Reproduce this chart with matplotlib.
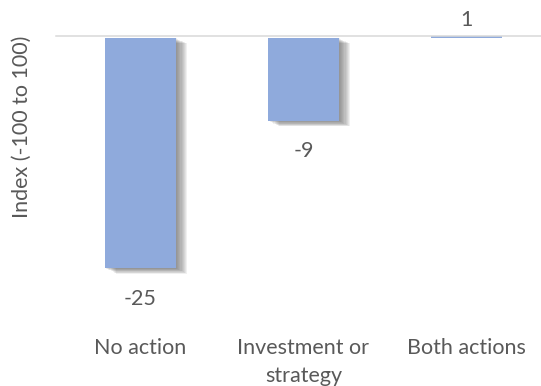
import matplotlib
matplotlib.use("Agg")
import matplotlib.pyplot as plt
import matplotlib.patheffects as pe

categories = ["No action", "Investment or\nstrategy", "Both actions"]
values = [-25, -9, 1]
value_labels = ["-25", "-9", "1"]

W, H = 541, 386
fig = plt.figure(figsize=(W / 100, H / 100), dpi=100)

# top spine doubles as the baseline; axes runs down to just under the lowest bar
left, right = 56, 541
top, bottom = 36, 290
ax = fig.add_axes([left / W, 1 - bottom / H, (right - left) / W, (bottom - top) / H])

bar_color = "#8FAADC"
text_color = "#595959"
font = "Lato"
fs = 15.5

# soft drop shadow built from several faint offset copies
soft_shadow = [
    pe.SimplePatchShadow(offset=(d * 0.8, -d * 0.4), shadow_rgbFace="#5a5a5a", alpha=0.09)
    for d in range(1, 11)
] + [pe.Normal()]

bars = ax.bar(range(len(values)), values, width=0.436, color=bar_color, zorder=2)
for b, v in zip(bars, values):
    if v < 0:
        b.set_path_effects(soft_shadow)

ax.set_xlim(-0.519, 2.459)
ax.set_ylim(-27.37, 0.2)

for i, (v, lab) in enumerate(zip(values, value_labels)):
    if v < 0:
        ax.annotate(lab, (i, v), xytext=(0, -22), textcoords="offset points",
                    ha="center", va="center", fontsize=fs, color=text_color,
                    family=font, annotation_clip=False)
    else:
        ax.annotate(lab, (i, 0), xytext=(0, 13), textcoords="offset points",
                    ha="center", va="center", fontsize=fs, color=text_color,
                    family=font, annotation_clip=False)

for name, s in ax.spines.items():
    s.set_visible(name == "top")
ax.spines["top"].set_color("#D9D9D9")
ax.spines["top"].set_linewidth(1.1)
ax.set_yticks([])
ax.set_xticks([])

for i, c in enumerate(categories):
    ax.annotate(c, (i, 0), xycoords=("data", "figure pixels"),
                xytext=(i, H - 338), textcoords=("data", "figure pixels"),
                ha="center", va="top", fontsize=fs, color=text_color,
                family=font, linespacing=1.5, annotation_clip=False)

fig.text(22 / W, 1 - 127 / H, "Index (-100 to 100)", rotation=90,
         ha="center", va="center", fontsize=fs, color=text_color, family=font)

fig.savefig("out.png", dpi=100, facecolor="white")
